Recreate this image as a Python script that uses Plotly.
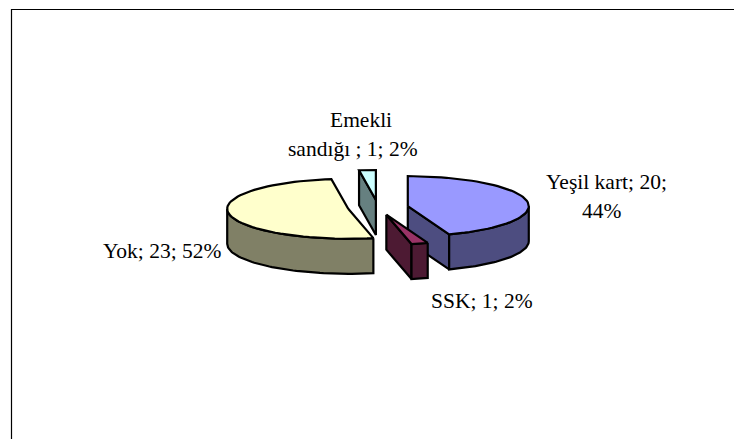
import math
import plotly.graph_objects as go

categories = ["Yeşil kart", "SSK", "Yok", "Emekli sandığı"]
values = [20, 1, 23, 1]
percents = [44, 2, 52, 2]
top_colors = ["#9999FF", "#993366", "#FFFFCC", "#CCFFFF"]
wall_colors = ["#4D4D80", "#4D1A33", "#808066", "#668080"]
label_lines = ["Yeşil kart; 20;", "44%", "SSK; 1; 2%", "Yok; 23; 52%", "Emekli", "sandığı ; 1; 2%"]
label_pos = [(606, 182), (602, 211), (482, 301), (162, 251), (361, 120), (353, 148.5)]

W, H = 734, 439
cx, cy = 378, 207.5
a, b = 121, 30
depth = 35
explode = 0.25

def pt(c, t):
    r = math.radians(t)
    return (c[0] + a * math.sin(r), c[1] - b * math.cos(r))

def arc(c, t0, t1, n=60):
    return [pt(c, t0 + (t1 - t0) * i / n) for i in range(n + 1)]

def down(pts):
    return [(x, y + depth) for x, y in pts]

fig = go.Figure()

def poly(pts, color):
    xs = [p[0] for p in pts] + [pts[0][0]]
    ys = [p[1] for p in pts] + [pts[0][1]]
    fig.add_trace(go.Scatter(x=xs, y=ys, mode="lines", fill="toself", fillcolor=color,
                             line=dict(color="black", width=2.2), hoverinfo="skip", showlegend=False))

slices = []
acc = 0.0
total = sum(values)
for i, p in enumerate(values):
    t0 = acc * 360 / total
    acc += p
    t1 = acc * 360 / total
    slices.append((i, t0, t1))

for i, t0, t1 in sorted(slices, key=lambda s: -math.cos(math.radians((s[1] + s[2]) / 2))):
    mid = math.radians((t0 + t1) / 2)
    c = (cx + explode * a * math.sin(mid), cy - explode * b * math.cos(mid))
    wall = wall_colors[i]
    # cut faces facing the viewer
    if math.cos(math.radians(t0 - 90)) < -1e-6:
        e = [c, pt(c, t0)]
        poly(e + down(e)[::-1], wall)
    if math.cos(math.radians(t1 + 90)) < -1e-6:
        e = [c, pt(c, t1)]
        poly(e + down(e)[::-1], wall)
    # front of the rim
    lo, hi = max(t0, 90), min(t1, 270)
    if lo < hi:
        e = arc(c, lo, hi)
        poly(e + down(e)[::-1], wall)
    poly([c] + arc(c, t0, t1), top_colors[i])

for line, (lx, ly) in zip(label_lines, label_pos):
    fig.add_annotation(x=lx, y=ly, text=line, showarrow=False,
                       xanchor="center", yanchor="middle",
                       font=dict(family="Liberation Serif", size=21.5, color="black"))

fig.add_shape(type="rect", x0=11.5, y0=9.5, x1=W + 20, y1=H + 20, line=dict(color="black", width=1.2), layer="below")

fig.update_layout(width=W, height=H, margin=dict(l=0, r=0, t=0, b=0),
                  paper_bgcolor="white", plot_bgcolor="white", showlegend=False,
                  xaxis=dict(range=[0, W], visible=False, fixedrange=True),
                  yaxis=dict(range=[H, 0], visible=False, fixedrange=True))
fig.write_html("out.html", config={"displayModeBar": False},
               post_script="document.body.style.margin='0';document.documentElement.style.overflow='hidden';")
